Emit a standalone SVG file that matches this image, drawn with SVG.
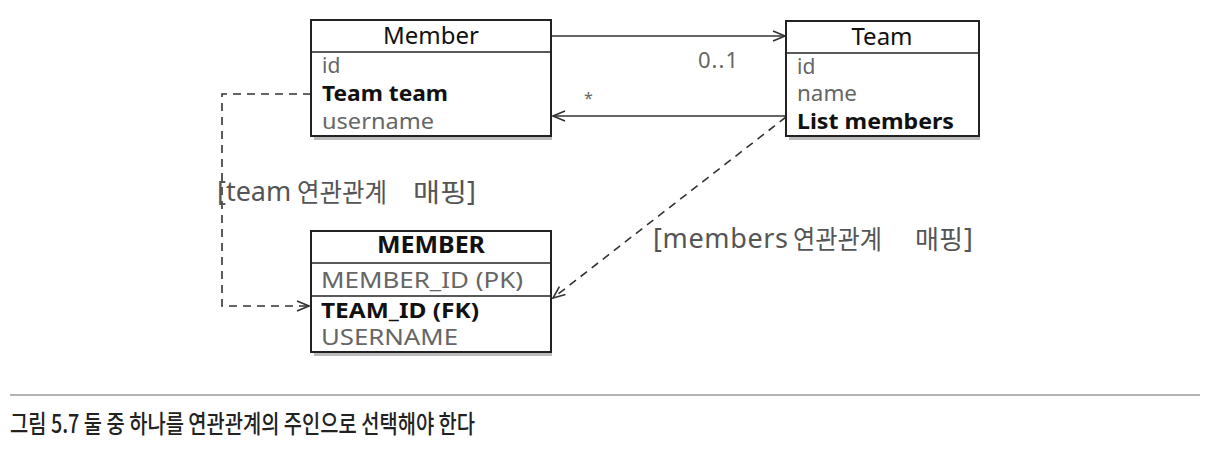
<svg xmlns="http://www.w3.org/2000/svg" width="1228" height="454" viewBox="0 0 1228 454">
<style>
text{font-family:"Noto Sans","Noto Sans CJK KR",sans-serif;}
.box{fill:#fff;stroke:#222;stroke-width:2;}
.div{stroke:#222;stroke-width:1.5;}
.shadow{fill:#bbb;}
.title{font-size:24px;fill:#111;text-anchor:middle;}
.f{font-size:21px;fill:#666;}
.fb{font-size:21px;fill:#111;font-weight:bold;}
.lat{font-size:27px;fill:#555;}
.kor{font-size:26px;fill:#555;font-family:"Noto Sans CJK KR",sans-serif;}
.line{fill:none;stroke:#333;stroke-width:1.6;}
.dash{fill:none;stroke:#333;stroke-width:1.6;stroke-dasharray:8,6;}
.cap{font-size:25px;fill:#222;font-weight:500;font-family:"Noto Sans CJK KR",sans-serif;}
</style>
<defs>
<marker id="open" viewBox="0 0 14 12" refX="13" refY="6" markerWidth="14" markerHeight="12" markerUnits="userSpaceOnUse" orient="auto">
<path d="M1,1 L13,6 L1,11" fill="none" stroke="#333" stroke-width="1.6"/>
</marker>
</defs>
<g id="connectors">
<line class="line" x1="551" y1="36" x2="785" y2="36" marker-end="url(#open)"/>
<text class="f" x="698" y="68" textLength="40" style="font-size:22px">0..1</text>
<line class="line" x1="786" y1="116" x2="553" y2="116" marker-end="url(#open)"/>
<text class="f" x="584" y="104" style="font-size:16px">*</text>
<path class="dash" d="M311,94 L222,94 L222,306 L309,306" marker-end="url(#open)"/>
<line class="dash" x1="786" y1="117" x2="553" y2="298" marker-end="url(#open)"/>
</g>
<g id="label-team">
<text class="lat" x="217" y="201">[team</text>
<text class="kor" x="297" y="202" textLength="90" lengthAdjust="spacingAndGlyphs">연관관계</text>
<text class="kor" x="413" y="202" textLength="54" lengthAdjust="spacingAndGlyphs">매핑</text>
<text class="lat" x="467" y="201">]</text>
</g>
<g id="label-members">
<text class="lat" x="653" y="248" textLength="135">[members</text>
<text class="kor" x="793" y="249" textLength="89" lengthAdjust="spacingAndGlyphs">연관관계</text>
<text class="kor" x="915" y="249" textLength="48" lengthAdjust="spacingAndGlyphs">매핑</text>
<text class="lat" x="964" y="248">]</text>
</g>
<g id="Member">
<rect class="shadow" x="314" y="136" width="238" height="4"/>
<rect class="box" x="311" y="20" width="240" height="116"/>
<line class="div" x1="311" y1="52" x2="551" y2="52"/>
<text class="title" x="431" y="44">Member</text>
<text class="f" x="322" y="73">id</text>
<text class="fb" x="322" y="101" textLength="126" lengthAdjust="spacingAndGlyphs">Team team</text>
<text class="f" x="322" y="129" textLength="112" lengthAdjust="spacingAndGlyphs">username</text>
</g>
<g id="Team">
<rect class="shadow" x="789" y="136" width="191" height="4"/>
<rect class="box" x="786" y="21" width="193" height="115"/>
<line class="div" x1="786" y1="53" x2="979" y2="53"/>
<text class="title" x="882" y="45">Team</text>
<text class="f" x="797" y="74">id</text>
<text class="f" x="797" y="101" textLength="60" lengthAdjust="spacingAndGlyphs">name</text>
<text class="fb" x="797" y="129" textLength="157" lengthAdjust="spacingAndGlyphs">List members</text>
</g>
<g id="MEMBER">
<rect class="shadow" x="314" y="352" width="238" height="4"/>
<rect class="box" x="311" y="231" width="240" height="121"/>
<line class="div" x1="311" y1="263" x2="551" y2="263"/>
<line class="div" x1="311" y1="296" x2="551" y2="296"/>
<text class="title" x="431" y="253" style="font-weight:bold" textLength="108" lengthAdjust="spacingAndGlyphs">MEMBER</text>
<text class="f" x="321" y="288" textLength="202" lengthAdjust="spacingAndGlyphs">MEMBER_ID (PK)</text>
<text class="fb" x="321" y="318" textLength="158" lengthAdjust="spacingAndGlyphs">TEAM_ID (FK)</text>
<text class="f" x="321" y="345" textLength="137" lengthAdjust="spacingAndGlyphs">USERNAME</text>
</g>
<line x1="10" y1="395" x2="1200" y2="395" stroke="#999" stroke-width="1.5"/>
<text class="cap" x="10" y="433" textLength="465" lengthAdjust="spacingAndGlyphs">그림 5.7 둘 중 하나를 연관관계의 주인으로 선택해야 한다</text>
</svg>
